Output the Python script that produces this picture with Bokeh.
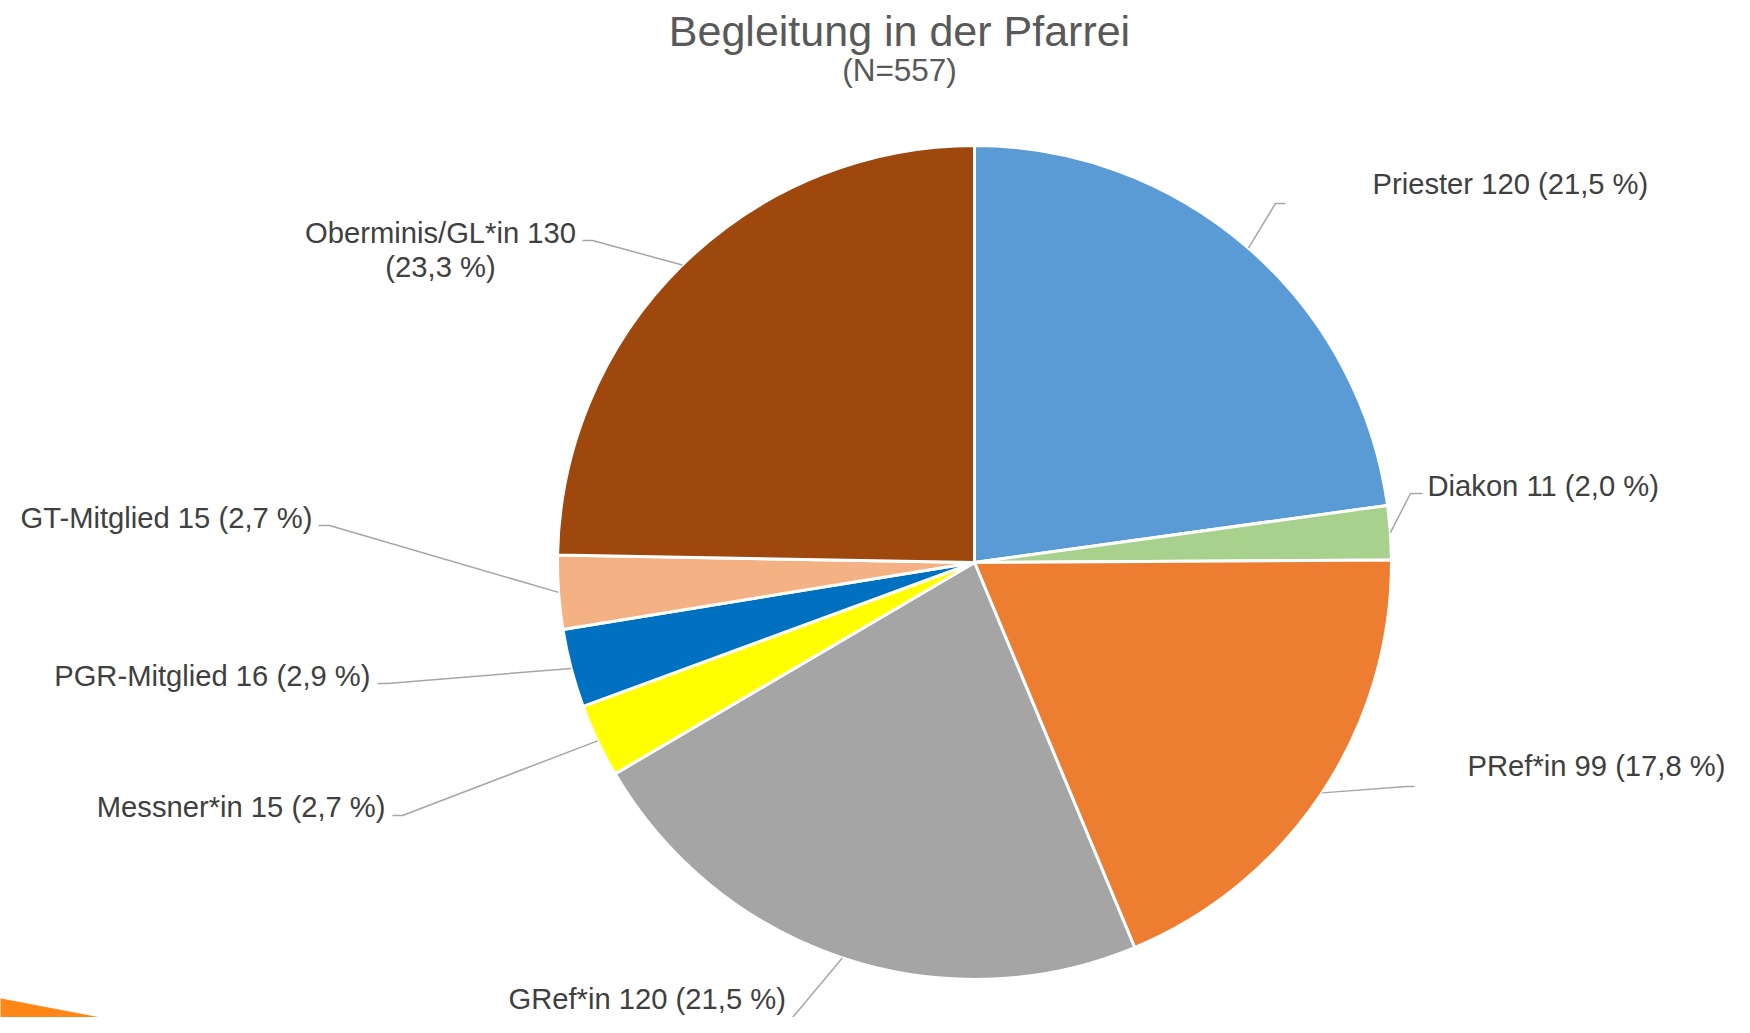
import numpy as np
from bokeh.plotting import figure
from bokeh.models import ColumnDataSource, Range1d
from bokeh.core.properties import value
from bokeh.embed import file_html
from bokeh.resources import INLINE

# ---------------- data ----------------
categories = ["Priester", "Diakon", "PRef*in", "GRef*in", "Messner*in",
              "PGR-Mitglied", "GT-Mitglied", "Oberminis/GL*in"]
counts = [120, 11, 99, 120, 15, 16, 15, 130]
percent_labels = ["21,5 %", "2,0 %", "17,8 %", "21,5 %", "2,7 %", "2,9 %", "2,7 %", "23,3 %"]
colors = ["#5B9BD5", "#A9D18E", "#ED7D31", "#A5A5A5", "#FFFF00",
          "#0070C0", "#F4B183", "#9E480E"]
title_text = "Begleitung in der Pfarrei"
subtitle_text = "(N=557)"

# ---------------- layout (pixels relative to pie centre, y up) ----------------
R = 417
# label anchor x, vertical middle y, alignment
label_x = [398, 453, 493, -466, -589, -604, -662, -534]
label_y = [379, 77, -203, -436, -244, -113, 45, 330]
label_align = ["left", "left", "left", "left", "right", "right", "right", "center"]
# leader elbow and end points
elbow = [(301, 359), (436, 69), (432, -224), (-207, -485), (-572, -253),
         (-587, -121), (-645, 37), (-382, 322)]
lend = [(311, 359), (448, 69), (440, -224), (-217, -485), (-582, -253),
        (-597, -121), (-656, 37), (-392, 322)]

FONT = "Liberation Sans"
LABEL_COLOR = "#404040"
LABEL_SIZE = "29.2px"

W, H = 1734, 1017
CX, CY = 974, 562  # pie centre in figure pixels
p = figure(width=W, height=H, output_backend="svg", toolbar_location=None,
           x_range=Range1d(-CX, W - CX), y_range=Range1d(CY - H, CY),
           x_axis_location=None, y_axis_location=None, min_border=0)
p.grid.visible = False
p.outline_line_color = None
p.background_fill_color = "white"
p.border_fill_color = "white"

# decorative orange shape bottom-left
p.patch([-1000, -700, -1000], [-431, -488, -488], fill_color="#FF8717", line_color=None)

vals = np.array(counts, dtype=float)
frac = vals / vals.sum()
cum_end = np.cumsum(frac) * 2 * np.pi
cum_start = cum_end - frac * 2 * np.pi
mid = (cum_start + cum_end) / 2

src = ColumnDataSource(dict(
    start=np.pi / 2 - cum_start, end=np.pi / 2 - cum_end, color=colors, cat=categories))
p.wedge(x=0, y=0, radius=R, start_angle="start", end_angle="end", direction="clock",
        fill_color="color", line_color="white", line_width=3, source=src)

# leader lines
xs, ys = [], []
for i in range(len(counts)):
    ex, ey = R * np.sin(mid[i]), R * np.cos(mid[i])
    xs.append([ex, elbow[i][0], lend[i][0]])
    ys.append([ey, elbow[i][1], lend[i][1]])
p.multi_line(xs, ys, line_color="#A6A6A6", line_width=1.5)

# labels
for align in ["left", "right", "center"]:
    idx = [i for i in range(len(counts)) if label_align[i] == align]
    tx, ty, tt = [], [], []
    for i in idx:
        if categories[i] == "Oberminis/GL*in":
            tx += [label_x[i], label_x[i]]
            ty += [label_y[i], label_y[i] - 34]
            tt += [f"{categories[i]} {counts[i]}", f"({percent_labels[i]})"]
        else:
            tx.append(label_x[i])
            ty.append(label_y[i])
            tt.append(f"{categories[i]} {counts[i]} ({percent_labels[i]})")
    p.text(x=tx, y=ty, text=tt, text_align=align, text_baseline="middle",
           text_font=value(FONT), text_font_size=LABEL_SIZE, text_color=LABEL_COLOR)

# title
p.text(x=[-75], y=[532], text=[title_text], text_align="center", text_baseline="middle",
       text_font=value(FONT), text_font_size="43px", text_color="#595959")
p.text(x=[-75], y=[493], text=[subtitle_text], text_align="center", text_baseline="middle",
       text_font=value(FONT), text_font_size="31.5px", text_color="#595959")

open("out.html", "w").write(file_html(p, INLINE))
